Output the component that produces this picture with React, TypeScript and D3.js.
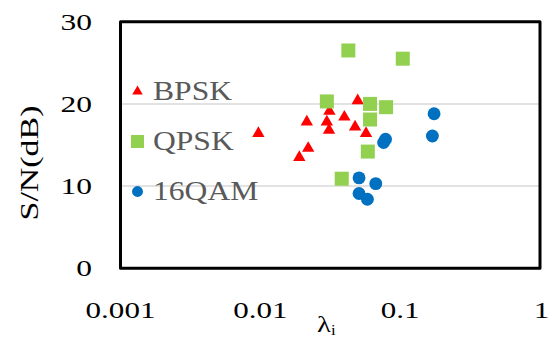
import React from "react";
import * as d3 from "d3";

const bpskX = [0.00968, 0.0215, 0.022, 0.019, 0.0312, 0.0299, 0.031, 0.0399, 0.0497, 0.0476, 0.057, 0.0604];
const bpskY = [16.4, 17.8, 14.6, 13.5, 19.1, 17.8, 16.8, 18.4, 20.4, 17.2, 16.4, 19.9];
const qpskX = [0.0426, 0.1044, 0.0299, 0.0609, 0.0793, 0.0609, 0.0587, 0.0382];
const qpskY = [26.5, 25.5, 20.3, 20.0, 19.6, 18.1, 14.2, 10.9];
const qamX = [0.17, 0.1748, 0.0761, 0.0786, 0.0508, 0.0669, 0.0508, 0.0583];
const qamY = [16.1, 18.8, 15.3, 15.7, 11.0, 10.3, 9.1, 8.4];

const xTicks = [0.001, 0.01, 0.1, 1];
const xTickLabels = ["0.001", "0.01", "0.1", "1"];
const yTicks = [0, 10, 20, 30];
const seriesNames = ["BPSK", "QPSK", "16QAM"];
const seriesColors = ["#FF0000", "#92D050", "#0070C0"];

const W = 548;
const H = 338;
const FONT = "'Liberation Serif', 'Times New Roman', serif";

export default function App() {
  const x = d3.scaleLog().domain([0.001, 1]).range([120.5, 540]);
  const y = d3.scaleLinear().domain([0, 30]).range([268.3, 21.7]);

  const tri = d3.symbol().type(d3.symbolTriangle).size(66)();
  const circ = d3.symbol().type(d3.symbolCircle).size(130)();
  const sq = 14;

  const series = [
    { xs: bpskX, ys: bpskY },
    { xs: qpskX, ys: qpskY },
    { xs: qamX, ys: qamY },
  ];

  const marker = (si: number, cx: number, cy: number, key: string, scale = 1) => {
    if (si === 0)
      return <path key={key} d={tri!} transform={`translate(${cx},${cy}) scale(${scale})`} fill={seriesColors[0]} />;
    if (si === 1)
      return (
        <rect key={key} x={cx - (sq * scale) / 2} y={cy - (sq * scale) / 2} width={sq * scale} height={sq * scale} fill={seriesColors[1]} />
      );
    return <path key={key} d={circ!} transform={`translate(${cx},${cy}) scale(${scale})`} fill={seriesColors[2]} />;
  };

  const legendY = [95, 145, 195];

  return (
    <svg width={W} height={H} style={{ position: "absolute", left: 0, top: 0, background: "#fff" }}>
      {yTicks.filter((t) => t > 0 && t < 30).map((t) => (
        <line key={t} x1={x(0.001)} x2={x(1)} y1={y(t)} y2={y(t)} stroke="#d9d9d9" strokeWidth={1.5} />
      ))}
      {seriesNames.map((n, i) => (
        <g key={n}>
          {marker(i, 137.5, legendY[i] - 3.5, "lg" + i, i === 0 ? 0.85 : i === 1 ? 0.93 : 0.85)}
          <text
            transform={`translate(153,${legendY[i] + 5}) scale(1.17,1)`}
            fontFamily={FONT}
            fontSize={27}
            fill="#595959"
          >
            {n}
          </text>
        </g>
      ))}
      {series.map((s, si) => (
        <g key={si}>
          {s.xs.map((v, j) => marker(si, x(v), y(s.ys[j]), `${si}-${j}`))}
        </g>
      ))}
      <rect
        x={x(0.001)}
        y={y(30)}
        width={x(1) - x(0.001)}
        height={y(0) - y(30)}
        fill="none"
        stroke="#000"
        strokeWidth={3}
        strokeLinejoin="round"
      />
      {yTicks.map((t) => (
        <text
          key={t}
          transform={`translate(92,${y(t) + 8}) scale(1.4,1)`}
          textAnchor="end"
          fontFamily={FONT}
          fontSize={22.5}
          fill="#000"
        >
          {t}
        </text>
      ))}
      {xTicks.map((t, i) => (
        <text
          key={t}
          transform={`translate(${x(t) + (i === 3 ? 1.5 : 0)},318) scale(1.38,1)`}
          textAnchor="middle"
          fontFamily={FONT}
          fontSize={22.5}
          fill="#000"
        >
          {xTickLabels[i]}
        </text>
      ))}
      <text
        transform={`translate(38,163) rotate(-90) scale(1.33,1)`}
        textAnchor="middle"
        fontFamily={FONT}
        fontSize={25.5}
        fill="#000"
      >
        S/N(dB)
      </text>
      <text transform={`translate(317,332) scale(1.2,1)`} fontFamily={FONT} fontSize={24} fill="#000">
        λ
        <tspan fontSize={14} dy={3}>
          i
        </tspan>
      </text>
    </svg>
  );
}
